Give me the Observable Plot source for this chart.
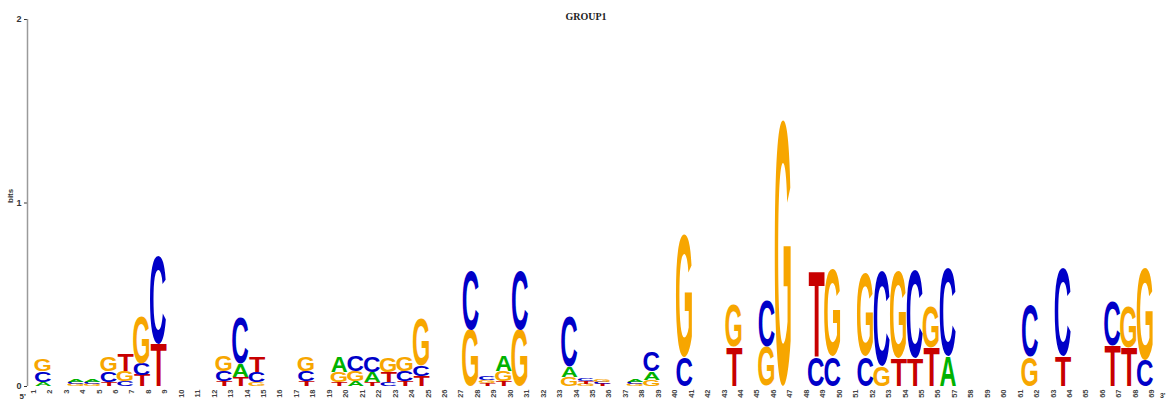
<!DOCTYPE html>
<html><head><meta charset="utf-8">
<script src="https://cdn.jsdelivr.net/npm/d3@7"></script>
<script src="https://cdn.jsdelivr.net/npm/@observablehq/plot@0.6"></script>
<style>body{margin:0;background:#fff}</style>
</head><body><div id="chart"></div>
<script>
const title = "GROUP1";
const positions = d3.range(1, 70);
const bases = ["A", "C", "G", "T"];
// information content (bits) of each base at positions 1..69
const A = [0,0.02,0,0.014,0.014,0,0,0,0,0, 0,0,0,0.07,0,0,0,0,0,0.085, 0.025,0.055,0,0,0,0,0,0,0,0.087, 0,0,0,0.055,0,0,0,0.016,0.045,0, 0,0,0,0,0,0,0,0,0,0, 0,0,0,0,0,0,0.16,0,0,0, 0,0,0,0,0,0,0,0,0];
const C = [0,0.06,0,0.012,0.012,0.06,0.025,0.062,0.48,0, 0,0,0.055,0.25,0.055,0,0,0.055,0,0, 0.085,0.085,0.02,0.055,0.058,0,0,0.32,0.02,0, 0.32,0,0,0.27,0.016,0.012,0,0.014,0.105,0, 0.16,0,0,0,0,0.25,0,0,0.16,0.16, 0,0.16,0.52,0,0.48,0,0.48,0,0,0, 0,0.28,0,0.48,0,0,0.24,0,0.14];
const G = [0,0.065,0,0.01,0.01,0.08,0.055,0.26,0,0, 0,0,0.085,0,0.02,0,0,0.08,0,0.055, 0.055,0,0.08,0.08,0.26,0,0,0.305,0.017,0.055, 0.305,0,0,0.05,0.012,0.016,0,0.01,0.033,0, 0.67,0,0,0.23,0,0.215,1.45,0,0,0.47, 0,0.455,0.105,0.47,0,0.22,0,0,0,0, 0,0.16,0,0,0,0,0,0.22,0.5];
const T = [0,0,0,0,0,0.02,0.09,0.06,0.23,0, 0,0,0.025,0.05,0.085,0,0,0.025,0,0.02, 0,0.02,0.055,0.025,0.055,0,0,0,0.015,0.025, 0,0,0,0,0.013,0.01,0,0,0,0, 0,0,0,0.215,0,0,0,0,0.47,0, 0,0,0,0.15,0.15,0.21,0,0,0,0, 0,0,0,0.16,0,0,0.22,0.21,0];
const baseColors = {A: "#00b200", C: "#0000c8", G: "#f7a600", T: "#c80000"};
const yTicks = [0, 1, 2];
const yLabel = "bits";
const endLabels = ["5'", "3'"];

const heights = {A, C, G, T};
const stacks = [];
positions.forEach((p, i) => {
  const letters = bases.map(b => ({base: b, h: heights[b][i]}))
    .filter(d => d.h > 0).sort((a, b) => a.h - b.h);
  let y = 0;
  for (const l of letters) { stacks.push({pos: p, base: l.base, y1: y, y2: y + l.h}); y += l.h; }
});

const FONT = "'Liberation Sans', Arial, Helvetica, sans-serif";
const ctx = document.createElement("canvas").getContext("2d");
ctx.font = `bold 100px ${FONT}`;
const ink = {};
for (const b of bases) {
  const m = ctx.measureText(b);
  ink[b] = {x0: -m.actualBoundingBoxLeft, x1: m.actualBoundingBoxRight, y0: -m.actualBoundingBoxAscent, y1: m.actualBoundingBoxDescent};
}

const letterWidth = 16;
function logo(index, scales) {
  const ns = "http://www.w3.org/2000/svg";
  const g = document.createElementNS(ns, "g");
  for (const d of stacks) {
    const xc = scales.x(d.pos), yt = scales.y(d.y2), yb = scales.y(d.y1);
    const h = yb - yt;
    if (h <= 0) continue;
    const k = ink[d.base];
    const sx = letterWidth / (k.x1 - k.x0), sy = h / (k.y1 - k.y0);
    const t = document.createElementNS(ns, "text");
    t.textContent = d.base;
    t.setAttribute("font-family", FONT);
    t.setAttribute("font-weight", "bold");
    t.setAttribute("font-size", "100");
    t.setAttribute("fill", baseColors[d.base]);
    t.setAttribute("transform", `translate(${xc - letterWidth / 2},${yt}) scale(${sx},${sy}) translate(${-k.x0},${-k.y0})`);
    g.appendChild(t);
  }
  return g;
}

const chart = Plot.plot({
  width: 1169, height: 405,
  marginLeft: 27, marginRight: 7, marginTop: 19, marginBottom: 19,
  style: {fontFamily: "Liberation Sans, Arial, sans-serif", fontSize: "9px", fontWeight: "bold", background: "#fff", color: "#333"},
  x: {domain: [0.5, 69.5], axis: null},
  y: {domain: [0, 2], ticks: yTicks, tickSize: 3, tickPadding: 3, label: null, tickFormat: d => String(d)},
  marks: [
    Plot.ruleX([0.5], {x: d => d, y1: 0, y2: 2, stroke: "#9a9a9a", strokeWidth: 1.5}),
    logo,
    Plot.text(positions, {x: d => d, frameAnchor: "bottom", rotate: -90, textAnchor: "end", dy: 3, fontSize: 7.5, fill: "#444", text: d => String(d)}),
    Plot.text([endLabels[0]], {frameAnchor: "bottom-left", dx: -8, dy: 12, fontSize: 8, fill: "#333"}),
    Plot.text([endLabels[1]], {frameAnchor: "bottom-right", dx: 3, dy: 11, fontSize: 7, fill: "#333"}),
    Plot.text([yLabel], {frameAnchor: "left", rotate: -90, dx: -17, fontSize: 8, fill: "#333"}),
    Plot.text([title], {frameAnchor: "top", dx: -9, dy: -7, fontSize: 10, fontFamily: "Liberation Serif, Times New Roman, serif", fill: "#222"})
  ]
});
document.getElementById("chart").appendChild(chart);
</script>
</body></html>
